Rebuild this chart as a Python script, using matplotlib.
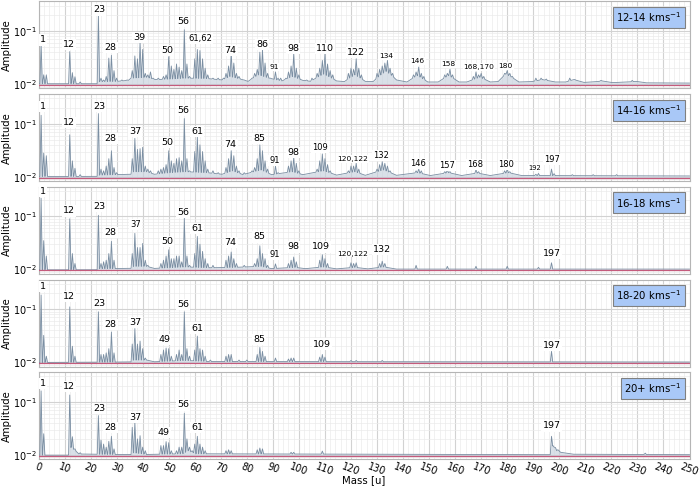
import numpy as np
import matplotlib.pyplot as plt
from matplotlib.ticker import MultipleLocator, LogLocator, NullFormatter

# velocity bins
ranges = ["12-14", "14-16", "16-18", "18-20", "20+"]

# --- 12-14 km/s ---
m_12_14 = [1, 2, 3, 12, 13, 14, 16, 23, 24, 25, 26, 27, 28, 29, 30, 32, 34, 36, 37, 38, 39, 40, 41, 42, 43, 44,
           46, 48, 49, 50, 51, 52, 53, 54, 55, 56, 57, 58, 60, 61, 62, 63, 64, 65, 67, 69, 71, 72, 73, 74, 75,
           76, 77, 79, 82, 83, 84, 85, 86, 87, 88, 89, 91, 92, 93, 95, 96, 97, 98, 99, 100, 103, 105, 107, 108,
           109, 110, 111, 112, 113, 119, 120, 121, 122, 123, 124, 130, 131, 132, 133, 134, 135, 136, 144, 145,
           146, 147, 148, 156, 157, 158, 159, 167, 168, 169, 170, 171, 179, 180, 181, 182, 191, 193, 195, 204,
           206, 216, 228]
a_12_14 = [0.057, 0.015, 0.015, 0.041, 0.0165, 0.0138, 0.011, 0.21, 0.013, 0.012, 0.014, 0.031, 0.035, 0.018,
           0.013, 0.012, 0.012, 0.018, 0.034, 0.030, 0.062, 0.045, 0.016, 0.015, 0.017, 0.013, 0.013, 0.014,
           0.015, 0.033, 0.022, 0.019, 0.024, 0.021, 0.018, 0.106, 0.024, 0.014, 0.030, 0.045, 0.043, 0.030,
           0.020, 0.015, 0.013, 0.013, 0.013, 0.016, 0.022, 0.040, 0.025, 0.016, 0.014, 0.012, 0.013, 0.016,
           0.019, 0.040, 0.045, 0.025, 0.016, 0.013, 0.017, 0.013, 0.013, 0.013, 0.017, 0.022, 0.037, 0.020,
           0.015, 0.012, 0.013, 0.016, 0.020, 0.028, 0.037, 0.024, 0.018, 0.015, 0.016, 0.020, 0.019, 0.030,
           0.020, 0.015, 0.016, 0.019, 0.022, 0.025, 0.028, 0.020, 0.016, 0.015, 0.017, 0.021, 0.016, 0.014,
           0.015, 0.016, 0.019, 0.015, 0.014, 0.017, 0.015, 0.016, 0.014, 0.016, 0.018, 0.016, 0.014, 0.013,
           0.013, 0.0125, 0.013, 0.0122, 0.0118, 0.0118]
bgm_12_14 = [0, 22.5, 23.5, 30, 34.5, 35.5, 41.5, 45, 50.5, 56.5, 64.5, 70.5, 73.5, 77.5, 80.5, 84.5, 88.5, 93.5,
             97.5, 101.5, 104.5, 109.5, 114.5, 117.5, 121.5, 125.5, 128.5, 133.5, 137.5, 141.5, 145.5, 149.5,
             153.5, 157.5, 161.5, 164.5, 169.5, 173.5, 176.5, 179.5, 184.5, 189.5, 193.5, 198.5, 202.5, 205.5,
             209.5, 214.5, 216.5, 220.5, 226.5, 229.5, 233.5, 250]
bga_12_14 = [0.0102, 0.0102, 0.0112, 0.0113, 0.0118, 0.013, 0.0135, 0.0122, 0.0125, 0.013, 0.0128, 0.012, 0.014,
             0.0125, 0.0113, 0.015, 0.013, 0.0115, 0.014, 0.0118, 0.0113, 0.0155, 0.0115, 0.0112, 0.015, 0.0113,
             0.0112, 0.0175, 0.012, 0.011, 0.0145, 0.011, 0.011, 0.0145, 0.011, 0.011, 0.0135, 0.011, 0.0112,
             0.0155, 0.011, 0.0112, 0.0122, 0.011, 0.011, 0.0122, 0.0108, 0.0112, 0.0115, 0.0107, 0.011, 0.0113,
             0.0106, 0.0105]
lab_12_14 = [("1", 1.8, 0.068, "L"), ("12", 11.6, 0.055, "L"), ("23", 23.2, 0.25, "L"), ("28", 27.6, 0.0495, "L"),
             ("39", 38.8, 0.076, "L"), ("50", 49.3, 0.043, "L"), ("56", 55.6, 0.149, "L"),
             ("61,62", 62.0, 0.073, "M"), ("74", 73.8, 0.043, "L"), ("86", 85.9, 0.055, "L"),
             ("91", 90.7, 0.021, "S"), ("98", 97.7, 0.047, "L"), ("110", 109.9, 0.047, "L"),
             ("122", 122.0, 0.040, "L"), ("134", 133.6, 0.034, "S"), ("146", 145.6, 0.027, "S"),
             ("158", 157.5, 0.0235, "S"), ("168,170", 169.2, 0.021, "S"), ("180", 179.4, 0.022, "S")]

# --- 14-16 km/s ---
m_14_16 = [1, 2, 3, 12, 13, 14, 16, 23, 24, 25, 26, 27, 28, 29, 30, 36, 37, 38, 39, 40, 41, 42, 43, 46, 47, 48,
           49, 50, 51, 52, 53, 54, 55, 56, 57, 58, 60, 61, 62, 63, 64, 65, 67, 69, 72, 73, 74, 75, 76, 77, 79,
           82, 83, 84, 85, 86, 87, 88, 91, 92, 96, 97, 98, 99, 100, 107, 108, 109, 110, 111, 112, 119, 120, 121,
           122, 123, 130, 131, 132, 133, 134, 135, 145, 146, 147, 156, 157, 158, 168, 169, 179, 180, 181, 191,
           192, 197, 198, 205, 213, 222]
a_14_16 = [0.144, 0.028, 0.025, 0.062, 0.020, 0.0145, 0.011, 0.155, 0.014, 0.013, 0.016, 0.022, 0.031, 0.015,
           0.012, 0.022, 0.053, 0.033, 0.034, 0.036, 0.016, 0.014, 0.013, 0.013, 0.014, 0.015, 0.017, 0.031,
           0.020, 0.018, 0.022, 0.023, 0.020, 0.125, 0.022, 0.013, 0.030, 0.057, 0.040, 0.030, 0.020, 0.014,
           0.013, 0.012, 0.015, 0.022, 0.031, 0.025, 0.016, 0.013, 0.012, 0.013, 0.015, 0.022, 0.040, 0.031,
           0.020, 0.014, 0.016, 0.012, 0.016, 0.020, 0.023, 0.018, 0.013, 0.014, 0.020, 0.027, 0.022, 0.017,
           0.013, 0.013, 0.016, 0.016, 0.018, 0.014, 0.014, 0.017, 0.0193, 0.018, 0.016, 0.013, 0.013, 0.014,
           0.013, 0.0125, 0.0135, 0.0125, 0.0136, 0.0125, 0.013, 0.014, 0.0125, 0.0112, 0.0116, 0.014, 0.0115,
           0.011, 0.011, 0.011]
bgm_14_16 = [0, 22.5, 23.5, 35.5, 36.5, 41.5, 44.5, 50.5, 56.5, 64.5, 70.5, 74.5, 78.5, 85.5, 89.5, 97.5, 101.5,
             109.5, 114.5, 121.5, 125.5, 132.5, 137.5, 145.5, 150.5, 157.5, 162.5, 168.5, 173.5, 180.5, 185.5, 250]
bga_14_16 = [0.0102, 0.0102, 0.0108, 0.0112, 0.0125, 0.0125, 0.0112, 0.012, 0.0125, 0.012, 0.0112, 0.013, 0.011,
             0.0135, 0.011, 0.0125, 0.011, 0.013, 0.0108, 0.0125, 0.0107, 0.0135, 0.0107, 0.012, 0.0106, 0.012,
             0.0106, 0.0118, 0.0106, 0.012, 0.0106, 0.0104]
lab_14_16 = [("1", 1.8, 0.208, "L"), ("12", 11.6, 0.107, "L"), ("23", 23.2, 0.208, "L"), ("28", 27.6, 0.052, "L"),
             ("37", 37.1, 0.071, "L"), ("50", 49.3, 0.045, "L"), ("56", 55.6, 0.179, "L"), ("61", 61.0, 0.071, "L"),
             ("74", 73.8, 0.040, "L"), ("85", 84.7, 0.052, "L"), ("91", 90.7, 0.020, "M"), ("98", 97.7, 0.029, "L"),
             ("109", 108.0, 0.035, "M"), ("120,122", 120.5, 0.0217, "S"), ("132", 131.6, 0.025, "M"),
             ("146", 145.6, 0.018, "M"), ("157", 157.0, 0.0167, "M"), ("168", 167.7, 0.0174, "M"),
             ("180", 179.7, 0.0174, "M"), ("192", 190.7, 0.015, "XS"), ("197", 197.3, 0.021, "M")]

# --- 16-18 km/s ---
m_16_18 = [1, 2, 3, 12, 13, 14, 23, 24, 25, 26, 27, 28, 29, 36, 37, 38, 39, 40, 41, 42, 47, 48, 49, 50, 51, 52,
           53, 54, 55, 56, 57, 58, 60, 61, 62, 63, 64, 65, 67, 72, 73, 74, 75, 76, 79, 83, 84, 85, 86, 87, 88,
           91, 96, 97, 98, 99, 108, 109, 110, 111, 120, 121, 122, 131, 132, 133, 145, 157, 168, 180, 192, 197]
a_16_18 = [0.22, 0.035, 0.018, 0.090, 0.020, 0.013, 0.105, 0.013, 0.014, 0.015, 0.020, 0.034, 0.015, 0.020,
           0.048, 0.026, 0.026, 0.031, 0.015, 0.012, 0.013, 0.015, 0.018, 0.0235, 0.016, 0.016, 0.018, 0.018,
           0.014, 0.094, 0.018, 0.012, 0.020, 0.042, 0.030, 0.022, 0.016, 0.013, 0.012, 0.015, 0.018, 0.0214,
           0.016, 0.013, 0.012, 0.013, 0.016, 0.028, 0.020, 0.016, 0.012, 0.0128, 0.013, 0.015, 0.0172, 0.014,
           0.015, 0.019, 0.016, 0.013, 0.0134, 0.013, 0.0134, 0.013, 0.0144, 0.013, 0.012, 0.0115, 0.0115,
           0.0115, 0.011, 0.0134]
bgm_16_18 = [0, 22.5, 23.5, 35.5, 36.5, 41.5, 44.5, 56.5, 65.5, 75.5, 85.5, 89.5, 98.5, 102.5, 109.5, 114.5,
             121.5, 126.5, 132.5, 137.5, 250]
bga_16_18 = [0.0099, 0.0099, 0.0104, 0.0105, 0.0115, 0.0115, 0.0105, 0.0112, 0.0108, 0.011, 0.0115, 0.0104,
             0.011, 0.0104, 0.0112, 0.0103, 0.011, 0.0103, 0.0112, 0.0102, 0.0102]
lab_16_18 = [("1", 1.8, 0.30, "L"), ("12", 11.6, 0.127, "L"), ("23", 23.2, 0.155, "L"), ("28", 27.6, 0.050, "L"),
             ("37", 37.3, 0.069, "M"), ("50", 49.3, 0.034, "L"), ("56", 55.6, 0.12, "L"), ("61", 61.0, 0.060, "L"),
             ("74", 73.8, 0.032, "L"), ("85", 84.8, 0.041, "L"), ("91", 90.7, 0.0194, "M"),
             ("98", 97.7, 0.0267, "L"), ("109", 108.6, 0.0267, "L"), ("120,122", 120.5, 0.020, "S"),
             ("132", 132.0, 0.0241, "L"), ("197", 197.0, 0.020, "L")]

# --- 18-20 km/s ---
m_18_20 = [1, 2, 3, 12, 13, 14, 23, 24, 25, 26, 27, 28, 29, 36, 37, 38, 39, 40, 41, 47, 48, 49, 50, 51, 53, 54,
           55, 56, 57, 58, 60, 61, 62, 63, 64, 66, 72, 73, 74, 77, 80, 84, 85, 86, 87, 91, 96, 97, 98, 108, 109,
           110, 120, 122, 132, 197]
a_18_20 = [0.184, 0.032, 0.013, 0.11, 0.020, 0.013, 0.089, 0.014, 0.014, 0.015, 0.018, 0.037, 0.015, 0.022,
           0.043, 0.022, 0.025, 0.018, 0.012, 0.014, 0.017, 0.0185, 0.018, 0.013, 0.014, 0.017, 0.014, 0.089,
           0.018, 0.013, 0.017, 0.031, 0.018, 0.017, 0.013, 0.011, 0.013, 0.014, 0.014, 0.011, 0.011, 0.014,
           0.019, 0.016, 0.013, 0.012, 0.0115, 0.012, 0.012, 0.0125, 0.014, 0.0125, 0.0108, 0.0108, 0.0108,
           0.016]
bgm_18_20 = [0, 35.5, 36.5, 41.5, 44.5, 56.5, 65.5, 250]
bga_18_20 = [0.0099, 0.0101, 0.011, 0.011, 0.0102, 0.0108, 0.0103, 0.0101]
lab_18_20 = [("1", 1.8, 0.265, "L"), ("12", 11.6, 0.17, "L"), ("23", 23.2, 0.13, "L"), ("28", 27.6, 0.051, "L"),
             ("37", 37.2, 0.056, "L"), ("49", 48.3, 0.0265, "L"), ("56", 55.6, 0.12, "L"), ("61", 61.0, 0.044, "L"),
             ("85", 84.8, 0.0265, "L"), ("109", 109.0, 0.022, "L"), ("197", 197.3, 0.021, "L")]

# --- 20+ km/s ---
m_20p = [1, 2, 12, 13, 14, 16, 23, 24, 25, 26, 27, 28, 29, 36, 37, 38, 39, 40, 41, 47, 48, 49, 50, 51, 53, 54,
         55, 56, 57, 58, 59, 60, 61, 62, 63, 64, 72, 73, 74, 84, 85, 86, 97, 98, 109, 197, 198, 199, 233]
a_20p = [0.16, 0.025, 0.134, 0.022, 0.013, 0.011, 0.055, 0.019, 0.016, 0.014, 0.018, 0.0224, 0.013, 0.033, 0.041,
         0.020, 0.023, 0.014, 0.012, 0.015, 0.015, 0.0178, 0.017, 0.012, 0.012, 0.014, 0.014, 0.061, 0.020,
         0.014, 0.012, 0.016, 0.0224, 0.016, 0.014, 0.012, 0.012, 0.0125, 0.012, 0.0125, 0.0135, 0.013, 0.0112,
         0.0112, 0.0118, 0.0224, 0.014, 0.012, 0.0108]
bgm_20p = [0, 11.5, 12.5, 15.5, 35.5, 36.5, 41.5, 55.5, 57.5, 60.5, 196.5, 197.5, 200.5, 205.5, 250]
bga_20p = [0.0099, 0.0099, 0.014, 0.0104, 0.0101, 0.011, 0.0102, 0.0105, 0.012, 0.0105, 0.0101, 0.015, 0.0112,
           0.0103, 0.0101]
lab_20p = [("1", 1.8, 0.22, "L"), ("12", 11.6, 0.194, "L"), ("23", 23.2, 0.075, "L"), ("28", 27.6, 0.033, "L"),
           ("37", 37.2, 0.051, "L"), ("49", 48.0, 0.026, "L"), ("56", 55.6, 0.087, "L"), ("61", 61.0, 0.033, "L"),
           ("197", 197.0, 0.035, "L")]

panels = [
    (m_12_14, a_12_14, bgm_12_14, bga_12_14, lab_12_14),
    (m_14_16, a_14_16, bgm_14_16, bga_14_16, lab_14_16),
    (m_16_18, a_16_18, bgm_16_18, bga_16_18, lab_16_18),
    (m_18_20, a_18_20, bgm_18_20, bga_18_20, lab_18_20),
    (m_20p, a_20p, bgm_20p, bga_20p, lab_20p),
]

noise_level = 0.0097
sizes = {"L": 6.8, "M": 6.0, "S": 5.4, "XS": 4.9}
hw = 0.45  # half width of a peak in mass units

fig, axes = plt.subplots(5, 1, figsize=(7, 4.88), dpi=100, sharex=True)
fig.subplots_adjust(left=0.055, right=0.985, top=0.997, bottom=0.059, hspace=0.065)

for ax, rng, (pm, pa, bm, ba, labels) in zip(axes, ranges, panels):
    pm = np.array(pm, float)
    pa = np.array(pa, float)
    bm = np.array(bm, float)
    ba = np.array(ba, float)
    keep = np.array([np.all(np.abs(pm - m) > hw) for m in bm])
    vx = np.concatenate([bm[keep], pm - hw, pm, pm + hw])
    vy = np.concatenate([ba[keep], np.interp(pm - hw, bm, ba), pa, np.interp(pm + hw, bm, ba)])
    order = np.argsort(vx, kind="stable")
    vx, vy = vx[order], vy[order]

    ax.fill_between(vx, vy, noise_level, color="#c5d0dc", alpha=0.65, lw=0, zorder=2)
    ax.plot(vx, vy, color="#7a8ea2", lw=0.6, zorder=3)
    ax.axhline(noise_level, color="#c45b7c", lw=0.9, zorder=4)

    for txt, x, y, s in labels:
        ax.text(x, y, txt, ha="center", va="center", fontsize=sizes[s], zorder=5,
                bbox=dict(boxstyle="square,pad=0.12", fc="white", ec="none"))

    ax.annotate(rng + r" kms$^{-1}$", xy=(1, 1), xycoords="axes fraction", xytext=(-5.5, -6.5),
                textcoords="offset points", ha="right", va="top", fontsize=7.3, zorder=6,
                bbox=dict(boxstyle="square,pad=0.35", fc="#a9c8f7", ec="#808080", lw=0.8))

    ax.set_yscale("log")
    ax.set_ylim(0.0083, 0.36)
    ax.set_xlim(0, 250)
    ax.xaxis.set_major_locator(MultipleLocator(10))
    ax.xaxis.set_minor_locator(MultipleLocator(2))
    ax.yaxis.set_major_locator(LogLocator(base=10))
    ax.yaxis.set_minor_locator(LogLocator(base=10, subs=np.arange(2, 10)))
    ax.yaxis.set_minor_formatter(NullFormatter())
    ax.grid(which="major", color="#d2d2d2", lw=0.8, zorder=0)
    ax.grid(which="minor", color="#ebebeb", lw=0.5, zorder=0)
    ax.set_axisbelow(True)
    ax.tick_params(which="both", length=0, labelsize=7.0, pad=1.5)
    for sp in ax.spines.values():
        sp.set_color("#b5b5b5")
    ax.set_ylabel("Amplitude", fontsize=7.3, va="center")
    ax.yaxis.set_label_coords(-0.048, 0.5)

axes[-1].set_xlabel("Mass [u]", fontsize=7.3, va="top")
axes[-1].xaxis.set_label_coords(0.5, -0.185)
plt.setp(axes[-1].get_xticklabels(), rotation=-20, ha="center")

fig.savefig("out.png", dpi=100)
